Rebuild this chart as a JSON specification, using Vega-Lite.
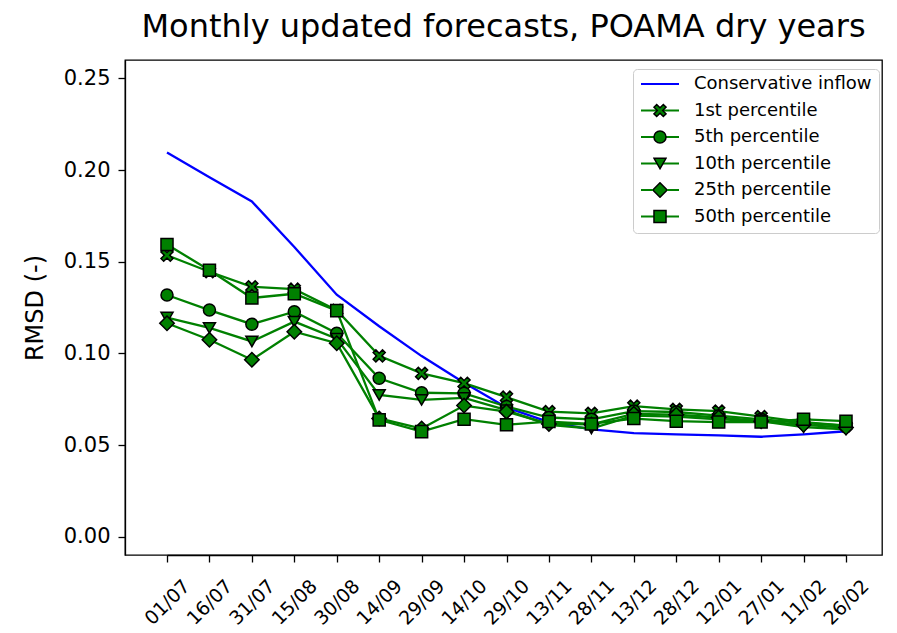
{
  "$schema": "https://vega.github.io/schema/vega-lite/v6.json",
  "autosize": "none",
  "width": 757,
  "height": 495,
  "padding": {"left": 125, "top": 60, "right": 15, "bottom": 78},
  "background": "white",
  "title": {"text": "Monthly updated forecasts, POAMA dry years", "fontSize": 32, "font": "DejaVu Sans", "fontWeight": "normal", "color": "black", "anchor": "middle", "offset": 16},
  "config": {
    "font": "DejaVu Sans",
    "view": {"stroke": "black", "strokeWidth": 1.3},
    "axis": {"grid": false, "domainColor": "black", "domainWidth": 1.3, "tickColor": "black", "tickWidth": 1.3, "tickSize": 7, "labelColor": "black", "titleColor": "black", "labelFont": "DejaVu Sans", "titleFont": "DejaVu Sans", "titleFontWeight": "normal"}
  },
  "datasets": {
    "rmsd": [
      {"date": "01/07", "series": "Conservative inflow", "rmsd": 0.2095},
      {"date": "16/07", "series": "Conservative inflow", "rmsd": 0.196},
      {"date": "31/07", "series": "Conservative inflow", "rmsd": 0.1828},
      {"date": "15/08", "series": "Conservative inflow", "rmsd": 0.158},
      {"date": "30/08", "series": "Conservative inflow", "rmsd": 0.132},
      {"date": "14/09", "series": "Conservative inflow", "rmsd": 0.1148},
      {"date": "29/09", "series": "Conservative inflow", "rmsd": 0.0985},
      {"date": "14/10", "series": "Conservative inflow", "rmsd": 0.084},
      {"date": "29/10", "series": "Conservative inflow", "rmsd": 0.0705},
      {"date": "13/11", "series": "Conservative inflow", "rmsd": 0.0625},
      {"date": "28/11", "series": "Conservative inflow", "rmsd": 0.0585},
      {"date": "13/12", "series": "Conservative inflow", "rmsd": 0.0565},
      {"date": "28/12", "series": "Conservative inflow", "rmsd": 0.0558},
      {"date": "12/01", "series": "Conservative inflow", "rmsd": 0.0552},
      {"date": "27/01", "series": "Conservative inflow", "rmsd": 0.0545},
      {"date": "11/02", "series": "Conservative inflow", "rmsd": 0.0558},
      {"date": "26/02", "series": "Conservative inflow", "rmsd": 0.0575},
      {"date": "01/07", "series": "1st percentile", "rmsd": 0.1535},
      {"date": "16/07", "series": "1st percentile", "rmsd": 0.1445},
      {"date": "31/07", "series": "1st percentile", "rmsd": 0.1363},
      {"date": "15/08", "series": "1st percentile", "rmsd": 0.135},
      {"date": "30/08", "series": "1st percentile", "rmsd": 0.1235},
      {"date": "14/09", "series": "1st percentile", "rmsd": 0.0986},
      {"date": "29/09", "series": "1st percentile", "rmsd": 0.0891},
      {"date": "14/10", "series": "1st percentile", "rmsd": 0.0837},
      {"date": "29/10", "series": "1st percentile", "rmsd": 0.0761},
      {"date": "13/11", "series": "1st percentile", "rmsd": 0.0682},
      {"date": "28/11", "series": "1st percentile", "rmsd": 0.0673},
      {"date": "13/12", "series": "1st percentile", "rmsd": 0.0712},
      {"date": "28/12", "series": "1st percentile", "rmsd": 0.0694},
      {"date": "12/01", "series": "1st percentile", "rmsd": 0.0685},
      {"date": "27/01", "series": "1st percentile", "rmsd": 0.0655},
      {"date": "11/02", "series": "1st percentile", "rmsd": 0.0625},
      {"date": "26/02", "series": "1st percentile", "rmsd": 0.0605},
      {"date": "01/07", "series": "5th percentile", "rmsd": 0.1318},
      {"date": "16/07", "series": "5th percentile", "rmsd": 0.1236},
      {"date": "31/07", "series": "5th percentile", "rmsd": 0.1159},
      {"date": "15/08", "series": "5th percentile", "rmsd": 0.1227},
      {"date": "30/08", "series": "5th percentile", "rmsd": 0.111},
      {"date": "14/09", "series": "5th percentile", "rmsd": 0.0864},
      {"date": "29/09", "series": "5th percentile", "rmsd": 0.0785},
      {"date": "14/10", "series": "5th percentile", "rmsd": 0.0782},
      {"date": "29/10", "series": "5th percentile", "rmsd": 0.071},
      {"date": "13/11", "series": "5th percentile", "rmsd": 0.065},
      {"date": "28/11", "series": "5th percentile", "rmsd": 0.064},
      {"date": "13/12", "series": "5th percentile", "rmsd": 0.0685},
      {"date": "28/12", "series": "5th percentile", "rmsd": 0.068},
      {"date": "12/01", "series": "5th percentile", "rmsd": 0.066},
      {"date": "27/01", "series": "5th percentile", "rmsd": 0.064},
      {"date": "11/02", "series": "5th percentile", "rmsd": 0.062},
      {"date": "26/02", "series": "5th percentile", "rmsd": 0.0605},
      {"date": "01/07", "series": "10th percentile", "rmsd": 0.1195},
      {"date": "16/07", "series": "10th percentile", "rmsd": 0.1139},
      {"date": "31/07", "series": "10th percentile", "rmsd": 0.1065},
      {"date": "15/08", "series": "10th percentile", "rmsd": 0.1173},
      {"date": "30/08", "series": "10th percentile", "rmsd": 0.108},
      {"date": "14/09", "series": "10th percentile", "rmsd": 0.0773},
      {"date": "29/09", "series": "10th percentile", "rmsd": 0.0746},
      {"date": "14/10", "series": "10th percentile", "rmsd": 0.0757},
      {"date": "29/10", "series": "10th percentile", "rmsd": 0.069},
      {"date": "13/11", "series": "10th percentile", "rmsd": 0.061},
      {"date": "28/11", "series": "10th percentile", "rmsd": 0.059},
      {"date": "13/12", "series": "10th percentile", "rmsd": 0.066},
      {"date": "28/12", "series": "10th percentile", "rmsd": 0.0655},
      {"date": "12/01", "series": "10th percentile", "rmsd": 0.064},
      {"date": "27/01", "series": "10th percentile", "rmsd": 0.063},
      {"date": "11/02", "series": "10th percentile", "rmsd": 0.0597},
      {"date": "26/02", "series": "10th percentile", "rmsd": 0.0586},
      {"date": "01/07", "series": "25th percentile", "rmsd": 0.1164},
      {"date": "16/07", "series": "25th percentile", "rmsd": 0.1074},
      {"date": "31/07", "series": "25th percentile", "rmsd": 0.0965},
      {"date": "15/08", "series": "25th percentile", "rmsd": 0.1118},
      {"date": "30/08", "series": "25th percentile", "rmsd": 0.1055},
      {"date": "14/09", "series": "25th percentile", "rmsd": 0.0645},
      {"date": "29/09", "series": "25th percentile", "rmsd": 0.059},
      {"date": "14/10", "series": "25th percentile", "rmsd": 0.0715},
      {"date": "29/10", "series": "25th percentile", "rmsd": 0.0682},
      {"date": "13/11", "series": "25th percentile", "rmsd": 0.0615},
      {"date": "28/11", "series": "25th percentile", "rmsd": 0.0612},
      {"date": "13/12", "series": "25th percentile", "rmsd": 0.067},
      {"date": "28/12", "series": "25th percentile", "rmsd": 0.0665},
      {"date": "12/01", "series": "25th percentile", "rmsd": 0.065},
      {"date": "27/01", "series": "25th percentile", "rmsd": 0.063},
      {"date": "11/02", "series": "25th percentile", "rmsd": 0.061},
      {"date": "26/02", "series": "25th percentile", "rmsd": 0.0595},
      {"date": "01/07", "series": "50th percentile", "rmsd": 0.1594},
      {"date": "16/07", "series": "50th percentile", "rmsd": 0.1453},
      {"date": "31/07", "series": "50th percentile", "rmsd": 0.1302},
      {"date": "15/08", "series": "50th percentile", "rmsd": 0.1325},
      {"date": "30/08", "series": "50th percentile", "rmsd": 0.1233},
      {"date": "14/09", "series": "50th percentile", "rmsd": 0.0637},
      {"date": "29/09", "series": "50th percentile", "rmsd": 0.0573},
      {"date": "14/10", "series": "50th percentile", "rmsd": 0.0641},
      {"date": "29/10", "series": "50th percentile", "rmsd": 0.061},
      {"date": "13/11", "series": "50th percentile", "rmsd": 0.0628},
      {"date": "28/11", "series": "50th percentile", "rmsd": 0.0615},
      {"date": "13/12", "series": "50th percentile", "rmsd": 0.0644},
      {"date": "28/12", "series": "50th percentile", "rmsd": 0.063},
      {"date": "12/01", "series": "50th percentile", "rmsd": 0.0625},
      {"date": "27/01", "series": "50th percentile", "rmsd": 0.0625},
      {"date": "11/02", "series": "50th percentile", "rmsd": 0.064},
      {"date": "26/02", "series": "50th percentile", "rmsd": 0.063}
    ]
  },
  "data": {"name": "rmsd"},
  "encoding": {
    "x": {
      "field": "date", "type": "ordinal", "sort": null,
      "scale": {"type": "point", "range": [42, 721], "padding": 0},
      "axis": {"title": null, "labelAngle": -45, "labelAlign": "center", "labelBaseline": "middle", "labelPadding": 40, "labelFontSize": 19}
    },
    "y": {
      "field": "rmsd", "type": "quantitative",
      "scale": {"domain": [-0.01, 0.26], "nice": false, "zero": false},
      "axis": {"title": "RMSD (-)", "values": [0, 0.05, 0.1, 0.15, 0.2, 0.25], "format": ".2f", "labelFontSize": 21, "labelPadding": 8, "titleFontSize": 24, "titlePadding": 16}
    }
  },
  "layer": [
    {
      "mark": {"type": "line", "strokeWidth": 2.3},
      "encoding": {
        "detail": {"field": "series"},
        "color": {
          "field": "series", "type": "nominal",
          "scale": {"domain": ["Conservative inflow", "1st percentile", "5th percentile", "10th percentile", "25th percentile", "50th percentile"], "range": ["#0000ff", "#008000", "#008000", "#008000", "#008000", "#008000"]},
          "legend": {"orient": "none", "legendX": 508, "legendY": 9, "title": null, "padding": 7, "symbolType": "stroke", "symbolSize": 1444, "symbolStrokeWidth": 2, "clipHeight": 16, "rowPadding": 8.5, "labelFontSize": 18, "labelOffset": 14, "labelLimit": 400, "labelColor": "black", "labelFont": "DejaVu Sans", "strokeColor": "#cccccc", "fillColor": "rgba(255,255,255,0.85)", "cornerRadius": 4}
        }
      }
    },
    {
      "mark": {"type": "point", "filled": true, "fill": "#008000", "stroke": "black", "strokeWidth": 1.5, "size": 145},
      "encoding": {
        "shape": {
          "field": "series", "type": "nominal",
          "sort": ["Conservative inflow", "1st percentile", "5th percentile", "10th percentile", "25th percentile", "50th percentile"],
          "scale": {"range": ["M0,0Z", "M-1,-0.55L-0.55,-1L0,-0.45L0.55,-1L1,-0.55L0.45,0L1,0.55L0.55,1L0,0.45L-0.55,1L-1,0.55L-0.45,0Z", "circle", "triangle-down", "M0,-1.2L1.2,0L0,1.2L-1.2,0Z", "square"]},
          "legend": {"orient": "none", "legendX": 521, "legendY": 9, "title": null, "padding": 7, "symbolSize": 145, "clipHeight": 16, "rowPadding": 10.5, "labelFontSize": 1, "labelOffset": 0, "labelLimit": 400, "labelOpacity": 0, "labelExpr": "''"}
        },
        "opacity": {"condition": {"test": "datum.series === 'Conservative inflow'", "value": 0}, "value": 1}
      }
    }
  ]
}
